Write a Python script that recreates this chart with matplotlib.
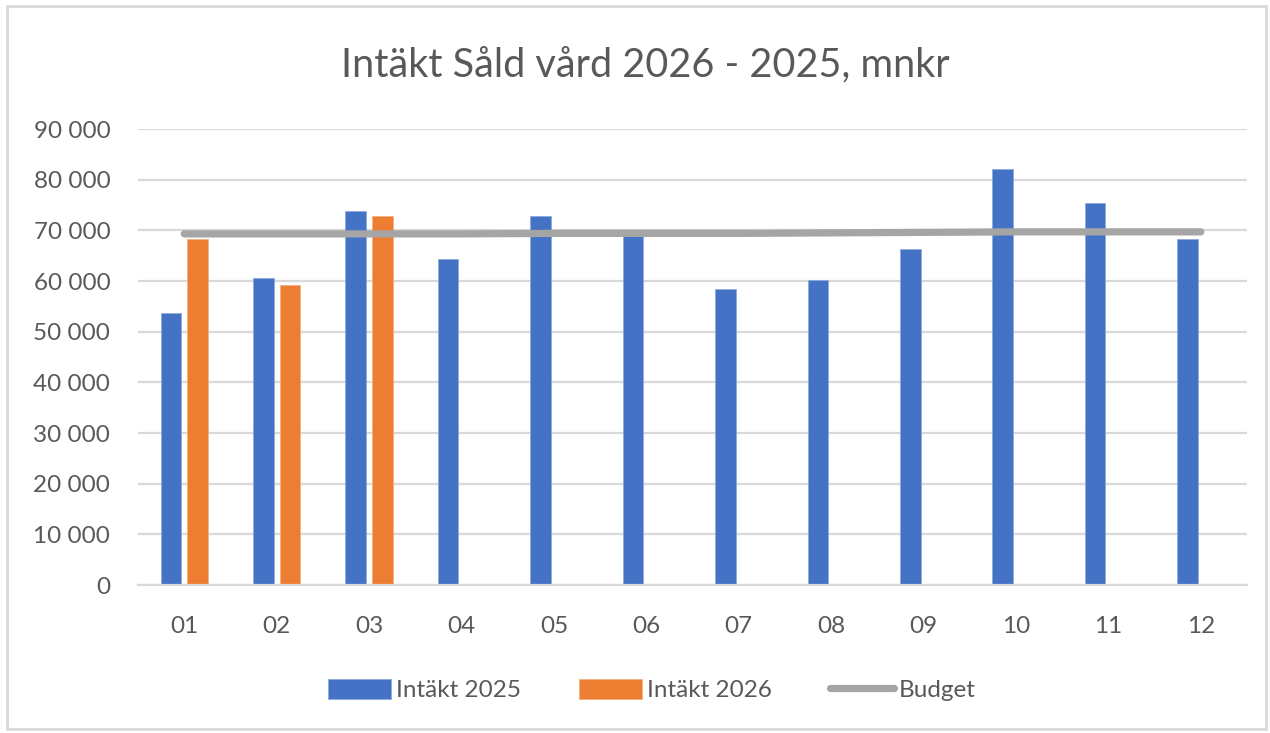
import matplotlib.pyplot as plt
import numpy as np
from matplotlib.patches import Rectangle
from matplotlib.ticker import FuncFormatter

# Data (mnkr)
manader = ["01", "02", "03", "04", "05", "06", "07", "08", "09", "10", "11", "12"]
intakt_2025 = [53700, 60500, 73800, 64300, 72900, 69000, 58400, 60200, 66400, 82200, 75300, 68200]
intakt_2026 = [68200, 59200, 72900]
budget = [69300, 69300, 69300, 69300, 69400, 69400, 69400, 69500, 69600, 69700, 69700, 69700]

BLA = "#4472C4"
ORANGE = "#ED7D31"
GRA = "#A5A5A5"
TEXT = "#595959"
GRID = "#D9D9D9"

plt.rcParams["font.family"] = ["Lato", "DejaVu Sans"]

fig = plt.figure(figsize=(12.7, 7.33), dpi=100)
ax = fig.add_axes([0.1087, 0.2019, 0.8732, 0.6221])

x = np.arange(len(manader))
bredd = 0.223
forskjut = 0.144

b25 = ax.bar(x - forskjut, intakt_2025, width=bredd, color=BLA, edgecolor="#8FAADC",
             linewidth=0.6, label="Intäkt 2025", zorder=2)
x26 = np.arange(len(intakt_2026))
b26 = ax.bar(x26 + forskjut, intakt_2026, width=bredd, color=ORANGE, edgecolor="#F4B183",
             linewidth=0.6, label="Intäkt 2026", zorder=2)
lb, = ax.plot(x, budget, color=GRA, linewidth=5.2, solid_capstyle="round",
              label="Budget", zorder=3)

ax.set_xlim(-0.5, len(manader) - 0.5)
ax.set_ylim(0, 90000)
ax.set_yticks(np.arange(0, 90001, 10000))
ax.yaxis.set_major_formatter(FuncFormatter(lambda v, p: f"{int(v):,}".replace(",", " ")))
ax.set_xticks(x)
ax.set_xticklabels(manader)

ax.grid(axis="y", color=GRID, linewidth=1.6, zorder=0)
ax.set_axisbelow(True)
for s in ["top", "right", "left"]:
    ax.spines[s].set_visible(False)
ax.spines["bottom"].set_color(GRID)
ax.spines["bottom"].set_linewidth(1.6)
ax.tick_params(axis="both", length=0, labelsize=17.5, colors=TEXT)
ax.tick_params(axis="x", pad=22)
ax.tick_params(axis="y", pad=20)

fig.text(0.508, 0.912, "Intäkt Såld vård 2026 - 2025, mnkr", ha="center", va="center",
         fontsize=28.5, color=TEXT)

fig.legend(handles=[b25, b26, lb], loc="center", bbox_to_anchor=(0.513, 0.059), ncol=3,
           frameon=False, fontsize=17.5, labelcolor=TEXT, handlelength=2.6,
           handleheight=0.9, handletextpad=0.2, columnspacing=2.4)

# ram runt diagrammet
fig.patches.append(Rectangle((0.0055, 0.005), 0.991, 0.987, transform=fig.transFigure,
                             fill=False, edgecolor=GRID, linewidth=2))

fig.savefig("out.png", dpi=100)
